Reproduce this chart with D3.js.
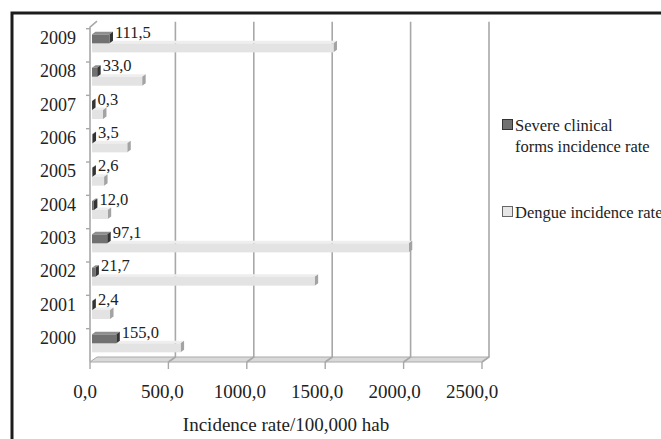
<!DOCTYPE html>
<html><head><meta charset="utf-8">
<script src="https://cdn.jsdelivr.net/npm/d3@7"></script>
<style>html,body{margin:0;padding:0;background:#fff;overflow:hidden}svg{display:block}</style>
</head><body>
<svg id="c" width="661" height="439"></svg>
<script>
const years = [2000, 2001, 2002, 2003, 2004, 2005, 2006, 2007, 2008, 2009];
const severe = [155.0, 2.4, 21.7, 97.1, 12.0, 2.6, 3.5, 0.3, 33.0, 111.5];
const dengue = [565, 115, 1420, 2020, 100, 77, 225, 70, 320, 1540];
const xTicks = [0, 500, 1000, 1500, 2000, 2500];
const seriesNames = ["Severe clinical|forms incidence rate", "Dengue incidence rate"];
const axisTitle = "Incidence rate/100,000 hab";

const svg = d3.select("#c");
const font = "'Liberation Serif', 'Times New Roman', serif";
const loc = d3.formatLocale({decimal: ",", thousands: "", grouping: [3], currency: ["", ""]});
const fmt = loc.format(".1f");

const x = d3.scaleLinear().domain([0, 2500]).range([90, 482]);
const y = d3.scaleBand().domain(years.slice().reverse()).range([28.7, 362]).padding(0);
const DX = 7, DY = -5;            // wall depth
const FX = 2, FY = -2;            // bar front face offset
const BX = 3.5, BY = -2.5;        // bar depth
const BH = 9;                     // bar thickness
const yTop = y.range()[0], yBot = y.range()[1];

// frame
svg.append("path").attr("d", "M12,439 V13 H661").attr("fill", "none")
  .attr("stroke", "#1c1c1c").attr("stroke-width", 3);

// floor
const floor = svg.append("g");
floor.append("path")
  .attr("d", `M${x(0)},${yBot} L${x(2500)},${yBot} L${x(2500)+DX},${yBot+DY} L${x(0)+DX},${yBot+DY} Z`)
  .attr("fill", "#d9d9d9").attr("stroke", "#aaa").attr("stroke-width", 1);

// back-wall gridlines
const grid = svg.append("g").attr("stroke", "#a8a8a8").attr("stroke-width", 1.6).attr("fill", "none");
xTicks.filter(d => d > 0).forEach(v => {
  grid.append("path")
    .attr("d", `M${x(v)+DX},${yTop+DY-2} V${yBot+DY} L${x(v)},${yBot}`);
});
// left wall
grid.append("path").attr("d", `M${x(0)+DX},${yTop+DY-2.5} L${x(0)},${yTop-1.5} V${yBot}`);

// x ticks
const ax = svg.append("g");
xTicks.forEach(v => {
  ax.append("line").attr("x1", x(v)).attr("x2", x(v)).attr("y1", yBot).attr("y2", yBot + 7)
    .attr("stroke", "#a8a8a8").attr("stroke-width", 1.4);
  ax.append("text").attr("x", x(v) - 5 - v * 0.002).attr("y", 398)
    .attr("text-anchor", "middle").attr("font-family", font).attr("font-size", 19)
    .attr("fill", "#222").text(fmt(v));
});
ax.append("text").attr("x", 286).attr("y", 431).attr("text-anchor", "middle")
  .attr("font-family", font).attr("font-size", 19).attr("fill", "#222").text(axisTitle);

// y ticks & labels
const ay = svg.append("g");
years.forEach(yr => {
  ay.append("line").attr("x1", x(0) - 4).attr("x2", x(0)).attr("y1", y(yr)).attr("y2", y(yr))
    .attr("stroke", "#a8a8a8").attr("stroke-width", 1.4);
  ay.append("text").attr("x", 76).attr("y", y(yr) + y.bandwidth() / 2 - 1.5)
    .attr("text-anchor", "end").attr("font-family", font).attr("font-size", 18)
    .attr("fill", "#222").text(yr);
});

// bars
function bar3d(g, v, top, c) {
  const x0 = x(0) + FX, x1 = x(v) + FX, t = top, b = top + BH;
  g.append("path").attr("d", `M${x0},${t} L${x0+BX},${t+BY} L${x1+BX},${t+BY} L${x1},${t} Z`).attr("fill", c.top);
  g.append("path").attr("d", `M${x1},${t} L${x1+BX},${t+BY} L${x1+BX},${b+BY} L${x1},${b} Z`).attr("fill", c.side);
  g.append("rect").attr("x", x0).attr("y", t).attr("width", Math.max(0, x1 - x0)).attr("height", BH).attr("fill", c.front);
}
const darkC = {front: "#717171", top: "#8e8e8e", side: "#343434"};
const lightC = {front: "#e3e3e3", top: "#eeeeee", side: "#a3a3a3"};
const bars = svg.append("g");
years.forEach((yr, i) => {
  const c = y(yr) + y.bandwidth() / 2 + FY;
  bar3d(bars, dengue[i], c, lightC);
  bar3d(bars, severe[i], c - BH, darkC);
  bars.append("text").attr("x", x(severe[i]) + FX + BX + 2).attr("y", c - 5.5)
    .attr("font-family", font).attr("font-size", 16.5).attr("fill", "#222").text(fmt(severe[i]));
});

// legend
const lg = svg.append("g");
const legItems = [{y: 119, c: darkC.front, s: "#333"}, {y: 206, c: "#e6e6e6", s: "#666"}];
legItems.forEach((it, i) => {
  lg.append("rect").attr("x", 502.5).attr("y", it.y + 0.5).attr("width", 10).attr("height", 10)
    .attr("fill", it.c).attr("stroke", it.s).attr("stroke-width", 1);
  const lines = seriesNames[i].split("|");
  lines.forEach((ln, j) => {
    lg.append("text").attr("x", 515).attr("y", it.y + 12 + j * 21)
      .attr("font-family", font).attr("font-size", 16.5).attr("fill", "#222").text(ln);
  });
});
</script>
</body></html>
